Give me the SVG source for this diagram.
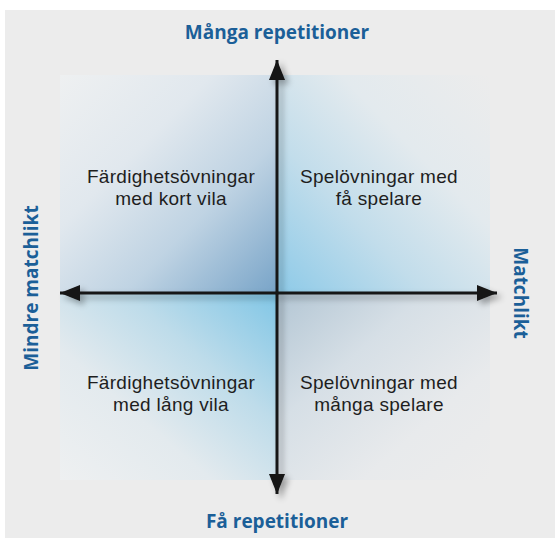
<svg xmlns="http://www.w3.org/2000/svg" width="555" height="541" viewBox="0 0 555 541">
<defs>
<style>
.ax{font-family:"Open Sans","Liberation Sans",sans-serif;font-weight:700;font-size:19px;fill:#1b5f98;text-anchor:middle}
.q{font-family:"Liberation Sans",Arial,sans-serif;font-size:19px;letter-spacing:0.3px;fill:#1e1e1e;text-anchor:middle}
.axis{stroke:#141414;stroke-width:3;fill:none}
</style>
<linearGradient id="gTL" x1="1" y1="1" x2="0" y2="0">
<stop offset="0" stop-color="#78a4c8"/><stop offset="0.35" stop-color="#bfd3e3"/><stop offset="0.65" stop-color="#e1e8ee"/><stop offset="1" stop-color="#eef0f1"/>
</linearGradient>
<linearGradient id="gTR" x1="0" y1="1" x2="1" y2="0">
<stop offset="0" stop-color="#8dcae8"/><stop offset="0.35" stop-color="#c2ddeb"/><stop offset="0.65" stop-color="#e3eaee"/><stop offset="1" stop-color="#ececec"/>
</linearGradient>
<linearGradient id="gBL" x1="1" y1="0" x2="0" y2="1">
<stop offset="0" stop-color="#80c6e6"/><stop offset="0.35" stop-color="#bedcea"/><stop offset="0.65" stop-color="#e3eaee"/><stop offset="1" stop-color="#eef0f1"/>
</linearGradient>
<linearGradient id="gBR" x1="0" y1="0" x2="1" y2="1">
<stop offset="0" stop-color="#b3c6d4"/><stop offset="0.35" stop-color="#d6dfe6"/><stop offset="0.7" stop-color="#e8eaec"/><stop offset="1" stop-color="#ececec"/>
</linearGradient>
<filter id="sh" x="-20%" y="-20%" width="140%" height="140%">
<feGaussianBlur in="SourceAlpha" stdDeviation="3"/>
<feOffset dx="4" dy="4" result="b"/>
<feComponentTransfer><feFuncA type="linear" slope="0.35"/></feComponentTransfer>
<feMerge><feMergeNode/><feMergeNode in="SourceGraphic"/></feMerge>
</filter>
<marker id="ah" viewBox="0 0 20 16" refX="20" refY="8" markerWidth="20" markerHeight="16" markerUnits="userSpaceOnUse" orient="auto">
<path d="M0,0 L20,8 L0,16 Z" fill="#141414"/>
</marker>
</defs>
<rect x="0" y="0" width="555" height="541" fill="#ffffff"/>
<rect x="5" y="10" width="550" height="528" fill="#ececec"/>
<g id="quadrant-bg">
<rect x="60" y="75" width="217" height="218" fill="url(#gTL)"/>
<rect x="277" y="75" width="213" height="218" fill="url(#gTR)"/>
<rect x="60" y="293" width="217" height="187" fill="url(#gBL)"/>
<rect x="277" y="293" width="213" height="187" fill="url(#gBR)"/>
</g>
<g id="connectors" filter="url(#sh)">
<line class="axis" x1="277" y1="293" x2="277" y2="60" marker-end="url(#ah)"/>
<line class="axis" x1="277" y1="293" x2="277" y2="494" marker-end="url(#ah)"/>
<line class="axis" x1="277" y1="293" x2="60" y2="293" marker-end="url(#ah)"/>
<line class="axis" x1="277" y1="293" x2="497" y2="293" marker-end="url(#ah)"/>
</g>
<g id="label-top"><text class="ax" x="277" y="39">Många repetitioner</text></g>
<g id="label-bottom"><text class="ax" x="277" y="528">Få repetitioner</text></g>
<g id="label-left"><text class="ax" transform="translate(38,288) rotate(-90)">Mindre matchlikt</text></g>
<g id="label-right"><text class="ax" transform="translate(514,293) rotate(90)">Matchlikt</text></g>
<g id="q-top-left"><text class="q" x="171" y="183">Färdighetsövningar</text><text class="q" x="171" y="205">med kort vila</text></g>
<g id="q-top-right"><text class="q" x="379" y="183">Spelövningar med</text><text class="q" x="379" y="205">få spelare</text></g>
<g id="q-bottom-left"><text class="q" x="171" y="389">Färdighetsövningar</text><text class="q" x="171" y="411">med lång vila</text></g>
<g id="q-bottom-right"><text class="q" x="379" y="389">Spelövningar med</text><text class="q" x="379" y="411">många spelare</text></g>
</svg>
